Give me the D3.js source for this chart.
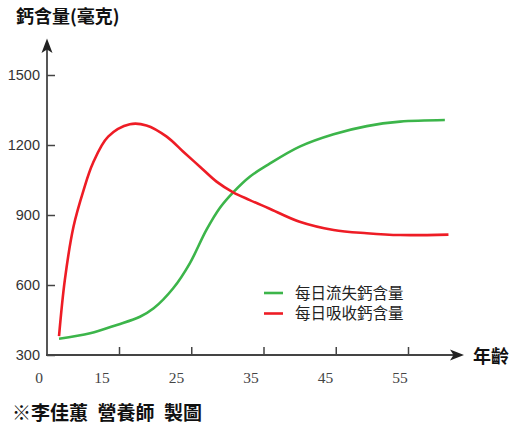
<!DOCTYPE html>
<html>
<head>
<meta charset="utf-8">
<script src="https://cdn.jsdelivr.net/npm/d3@7"></script>
<style>
  html, body { margin: 0; padding: 0; background: #fff; }
  svg { display: block; }
</style>
</head>
<body>
<svg id="chart"></svg>
<script>
// 每日鈣吸收 / 流失 (讀圖估計)
const absorbAge = [6.7, 7.5, 8.7, 10.1, 11.4, 13.5, 16.5, 18.8, 21.6, 23.9, 26.2, 28.5, 30.8, 33.1, 35.7, 40.0, 44.7, 49.3, 53.9, 60.6];
const absorbVal = [381, 621, 850, 1007, 1123, 1236, 1289, 1284, 1236, 1171, 1107, 1043, 997, 964, 929, 871, 836, 822, 814, 816];
const lossAge = [6.7, 11.0, 14.7, 17.9, 19.8, 22.5, 24.8, 27.1, 29.0, 30.8, 33.1, 35.7, 40.0, 44.7, 49.3, 53.9, 60.1];
const lossVal = [370, 393, 429, 464, 500, 586, 693, 836, 932, 997, 1064, 1117, 1193, 1246, 1281, 1300, 1307];

const yTicks = [300, 600, 900, 1200, 1500];
const xTicks = [15, 25, 35, 45, 55];
const seriesNames = ["每日流失鈣含量", "每日吸收鈣含量"];
const seriesColors = ["#3cb54a", "#ee1c25"];

const width = 521, height = 437;
const axisX = 47, axisY = 355;
const cjk = "'Noto Sans CJK TC', 'Noto Sans CJK SC', sans-serif";

const svg = d3.select("#chart")
  .attr("width", width)
  .attr("height", height)
  .attr("viewBox", [0, 0, width, height]);

// scales
const x = d3.scaleLinear().domain([15, 55]).range([119, 408]);
const xLabel = d3.scaleLinear().domain([15, 55]).range([102, 400]); // 原圖標籤略偏左
const y = d3.scaleLinear().domain([300, 1500]).range([axisY, 75]);

// y axis
svg.append("g")
  .attr("transform", `translate(${axisX},0)`)
  .call(d3.axisLeft(y).tickValues(yTicks).tickFormat(d3.format("d"))
    .tickSizeInner(-8).tickSizeOuter(0).tickPadding(7))
  .call(g => g.select(".domain").remove())
  .call(g => g.selectAll(".tick line").attr("stroke", "#444").attr("stroke-width", 1.5))
  .call(g => g.selectAll(".tick text")
    .attr("fill", "#333")
    .attr("font-family", "'Liberation Sans', Arial, sans-serif")
    .attr("font-size", 14.5));

// x axis
svg.append("g")
  .attr("transform", `translate(0,${axisY})`)
  .call(d3.axisBottom(x).tickValues(xTicks).tickSizeInner(-8).tickSizeOuter(0).tickFormat(""))
  .call(g => g.select(".domain").remove())
  .call(g => g.selectAll(".tick line").attr("stroke", "#444").attr("stroke-width", 1.5));

svg.append("g")
  .attr("fill", "#444")
  .attr("font-family", "'Liberation Serif', 'Times New Roman', serif")
  .attr("font-size", 15.5)
  .attr("text-anchor", "middle")
  .selectAll("text")
  .data(xTicks)
  .join("text")
  .attr("x", d => xLabel(d))
  .attr("y", 378)
  .attr("dy", "0.35em")
  .text(d => d);

svg.append("text")
  .attr("x", axisX - 8)
  .attr("y", 378)
  .attr("dy", "0.35em")
  .attr("text-anchor", "middle")
  .attr("fill", "#444")
  .attr("font-family", "'Liberation Serif', 'Times New Roman', serif")
  .attr("font-size", 15.5)
  .text("0");

// axis lines + arrows
svg.append("line")
  .attr("x1", axisX).attr("y1", axisY + 0.5)
  .attr("x2", axisX).attr("y2", 48)
  .attr("stroke", "#444").attr("stroke-width", 1.8);
svg.append("line")
  .attr("x1", axisX - 1).attr("y1", axisY)
  .attr("x2", 455).attr("y2", axisY)
  .attr("stroke", "#444").attr("stroke-width", 1.8);

svg.append("path")
  .attr("d", `M${axisX},38.5 L${axisX + 5.5},53 L${axisX},49.5 L${axisX - 5.5},53 Z`)
  .attr("fill", "#222");
svg.append("path")
  .attr("d", `M464,${axisY} L450,${axisY - 5.5} L453.5,${axisY} L450,${axisY + 5.5} Z`)
  .attr("fill", "#222");

// curves
const line = d3.line()
  .x(d => x(d[0]))
  .y(d => y(d[1]))
  .curve(d3.curveCatmullRom.alpha(0.5));

const series = [
  d3.zip(lossAge, lossVal),
  d3.zip(absorbAge, absorbVal)
];

svg.append("g")
  .attr("fill", "none")
  .attr("stroke-width", 2.6)
  .attr("stroke-linejoin", "round")
  .selectAll("path")
  .data(series)
  .join("path")
  .attr("stroke", (d, i) => seriesColors[i])
  .attr("d", line);

// legend
const legend = svg.append("g")
  .selectAll("g")
  .data(seriesNames)
  .join("g")
  .attr("transform", (d, i) => `translate(264,${293 + i * 20.5})`);

legend.append("line")
  .attr("x1", 0).attr("x2", 19)
  .attr("stroke", (d, i) => seriesColors[i])
  .attr("stroke-width", 2.6);

legend.append("text")
  .attr("x", 31)
  .attr("dy", "0.36em")
  .attr("fill", "#222")
  .attr("font-family", cjk)
  .attr("font-size", 15.5)
  .text(d => d);

// titles
svg.append("text")
  .attr("x", 16).attr("y", 17)
  .attr("dy", "0.36em")
  .attr("font-family", cjk)
  .attr("font-weight", "bold")
  .attr("font-size", 18)
  .attr("fill", "#111")
  .text("鈣含量(毫克)");

svg.append("text")
  .attr("x", 473).attr("y", 357)
  .attr("dy", "0.36em")
  .attr("font-family", cjk)
  .attr("font-weight", "bold")
  .attr("font-size", 18)
  .attr("fill", "#111")
  .text("年齡");

svg.append("text")
  .attr("x", 12).attr("y", 413)
  .attr("dy", "0.36em")
  .attr("font-family", cjk)
  .attr("font-weight", "bold")
  .attr("font-size", 19)
  .attr("fill", "#111")
  .style("white-space", "pre")
  .text("※李佳蕙\u2002營養師\u2002製圖");
</script>
</body>
</html>
